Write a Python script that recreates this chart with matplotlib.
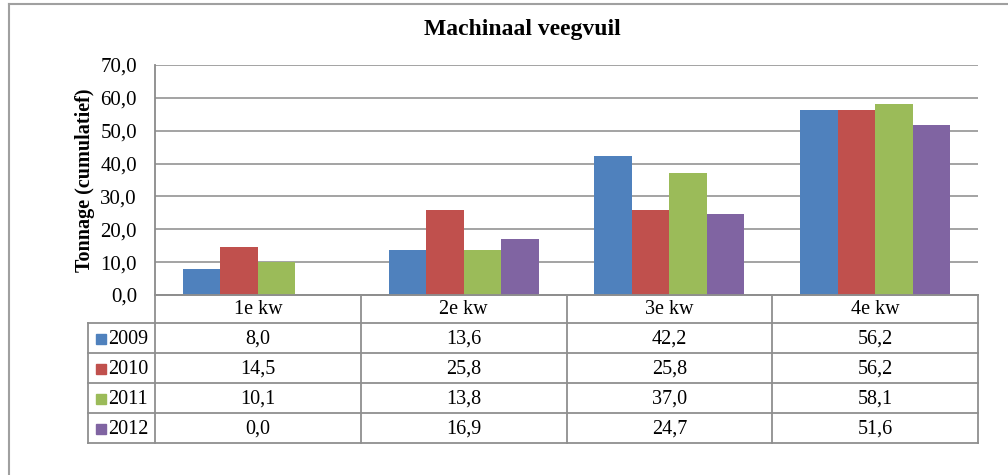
import matplotlib
matplotlib.use("Agg")
import matplotlib.pyplot as plt
from matplotlib.lines import Line2D
from matplotlib.patches import Rectangle
import numpy as np

categories = ["1e kw", "2e kw", "3e kw", "4e kw"]
series_names = ["2009", "2010", "2011", "2012"]
v2009 = [8.0, 13.6, 42.2, 56.2]
v2010 = [14.5, 25.8, 25.8, 56.2]
v2011 = [10.1, 13.8, 37.0, 58.1]
v2012 = [0.0, 16.9, 24.7, 51.6]
series_values = [v2009, v2010, v2011, v2012]
colors = ["#4F81BD", "#C0504D", "#9BBB59", "#8064A2"]
yticks = [0, 10, 20, 30, 40, 50, 60, 70]

plt.rcParams["font.family"] = ["Liberation Serif", "DejaVu Serif"]
W, H = 1008, 475
fig = plt.figure(figsize=(W / 100, H / 100), dpi=100)

def fx(px):
    return px / W

def fy(py):
    return (H - py) / H

FS = 14.5
L, R, T, B = 155, 978, 65, 295
ax = fig.add_axes([fx(L), fy(B), fx(R) - fx(L), fy(T) - fy(B)])
grid_c = "#8a8a8a"

x = np.arange(len(categories))
bw = 0.182
for i, (name, vals, c) in enumerate(zip(series_names, series_values, colors)):
    ax.bar(x + (i - 1.5) * bw, vals, width=bw, color=c, zorder=3)

ax.set_xlim(-0.5, len(categories) - 0.5)
ax.set_ylim(0, 70)
ax.set_yticks(yticks)
ax.set_yticklabels([f"{t:.1f}".replace(".", ",") for t in yticks], fontsize=15)
ax.set_xticks([])
ax.tick_params(axis="y", length=0, pad=13)
ax.yaxis.grid(True, color=grid_c, linewidth=1.1, zorder=0)
for s in ["top", "right"]:
    ax.spines[s].set_visible(False)
ax.spines["left"].set_color(grid_c)
ax.spines["bottom"].set_color(grid_c)
ax.spines["left"].set_linewidth(1.3)
ax.spines["bottom"].set_linewidth(1.3)
ax.set_ylabel("Tonnage (cumulatief)", fontsize=14.5, fontweight="bold")
ax.yaxis.set_label_coords((95 - L) / (R - L), 0.5)

# data table
TB = 443
rows_y = [295, 323, 353, 383, 413, 443]
axt = fig.add_axes([fx(L), fy(TB), fx(R) - fx(L), fy(B) - fy(TB)])
axt.set_xlim(-0.5, len(categories) - 0.5)
axt.set_ylim(TB, B)
axt.axis("off")
cw = (R - L) / len(categories)
leg_left = -0.5 - (L - 88) / cw
lc = "#8f8f8f"
lw = 1.3
for j, yy in enumerate(rows_y):
    x0 = -0.5 if j == 0 else leg_left
    axt.add_line(Line2D([x0, len(categories) - 0.5], [yy, yy], color=lc, lw=lw, clip_on=False))
for k in range(len(categories) + 1):
    xv = -0.5 + k
    axt.add_line(Line2D([xv, xv], [B, TB], color=lc, lw=lw, clip_on=False))
axt.add_line(Line2D([leg_left, leg_left], [rows_y[1], TB], color=lc, lw=lw, clip_on=False))

for k, cat in enumerate(categories):
    axt.text(k, (rows_y[0] + rows_y[1]) / 2 + 1, cat, ha="center", va="center", fontsize=FS)
msz = 10 / cw
for i, (name, vals, c) in enumerate(zip(series_names, series_values, colors)):
    yc = (rows_y[i + 1] + rows_y[i + 2]) / 2 + 1
    axt.add_patch(Rectangle((leg_left + 8 / cw, yc - 5.5), msz, 10, color=c, clip_on=False))
    axt.text(leg_left + 20 / cw, yc, name, ha="left", va="center", fontsize=FS)
    for k, v in enumerate(vals):
        axt.text(k, yc, f"{v:.1f}".replace(".", ","), ha="center", va="center", fontsize=FS)

fig.text(fx(522), fy(30), "Machinaal veegvuil", ha="center", va="center",
         fontsize=17, fontweight="bold")

fig.add_artist(Line2D([fx(8.5), fx(8.5)], [fy(4), fy(480)], color="#a0a0a0", lw=1.5))
fig.add_artist(Line2D([fx(8.5), fx(1010)], [fy(4), fy(4)], color="#a0a0a0", lw=1.5))

fig.savefig("out.png", dpi=100)
